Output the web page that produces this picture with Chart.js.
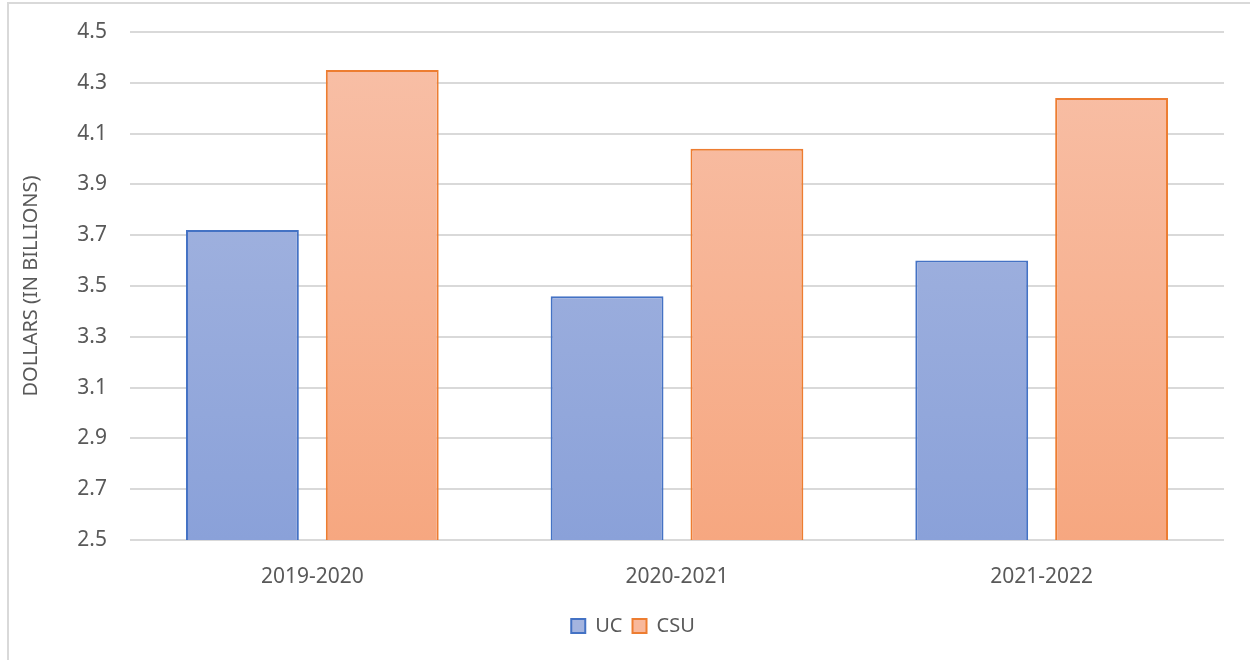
<!DOCTYPE html>
<html><head><meta charset="utf-8">
<script src="https://cdn.jsdelivr.net/npm/chart.js@4.4.1/dist/chart.umd.min.js"></script>
<style>
html,body{margin:0;padding:0;background:#fff;}
#wrap{position:relative;width:1250px;height:660px;}
#frame{position:absolute;left:7px;top:2px;width:1260px;height:680px;border:2px solid #D9D9D9;box-sizing:border-box;}
canvas{position:absolute;left:0;top:0;}
</style></head>
<body><div id="wrap"><div id="frame"></div><canvas id="c" width="1250" height="660"></canvas></div>
<script>
const categories = ["2019-2020", "2020-2021", "2021-2022"];
const ucValues = [3.72, 3.46, 3.60];
const csuValues = [4.35, 4.04, 4.24];
const seriesNames = ["UC", "CSU"];
const yTitle = "DOLLARS (IN BILLIONS)";
const yMin = 2.5, yMax = 4.5, yStep = 0.2;

const FONT = "'Noto Sans', sans-serif";
function grad(ctx, top, bottom) {
  const ch = ctx.chart, a = ch.chartArea;
  if (!a) return top;
  const g = ch.ctx.createLinearGradient(0, a.top, 0, a.bottom);
  g.addColorStop(0, top); g.addColorStop(1, bottom);
  return g;
}
new Chart(document.getElementById('c'), {
  type: 'bar',
  data: {
    labels: categories,
    datasets: [
      { label: seriesNames[0], data: ucValues,
        backgroundColor: c => grad(c, '#AAB9E1', '#8AA1D9'),
        borderColor: '#4472C4', borderWidth: 2, borderSkipped: 'bottom',
        categoryPercentage: 0.767, barPercentage: 0.807 },
      { label: seriesNames[1], data: csuValues,
        backgroundColor: c => grad(c, '#F8C0A8', '#F6A780'),
        borderColor: '#ED7D31', borderWidth: 2, borderSkipped: 'bottom',
        categoryPercentage: 0.767, barPercentage: 0.807 }
    ]
  },
  options: {
    responsive: false, animation: false,
    layout: { padding: { left: 28, right: 12, top: 32, bottom: 14 } },
    plugins: {
      tooltip: { enabled: false },
      legend: {
        position: 'bottom',
        labels: {
          color: '#595959', font: { family: FONT, size: 20 },
          boxWidth: 14, boxHeight: 14, padding: 10,
          generateLabels: ch => ch.data.datasets.map((d, i) => ({
            text: d.label, fillStyle: i === 0 ? '#A4B4DF' : '#F8B89B',
            strokeStyle: d.borderColor, lineWidth: 2, datasetIndex: i, fontColor: '#595959'
          }))
        }
      }
    },
    scales: {
      x: {
        grid: { display: false }, border: { display: false },
        ticks: { color: '#595959', font: { family: FONT, size: 21 }, padding: 16 },
        afterFit: s => { s.height = 66; }
      },
      y: {
        min: yMin, max: yMax,
        grid: { color: '#D9D9D9', lineWidth: 2, drawTicks: false },
        border: { display: false },
        ticks: { stepSize: yStep, color: '#595959', font: { family: FONT, size: 21, lineHeight: 0.3 }, padding: 23,
          callback: v => Number(v).toFixed(1) },
        title: { display: true, text: yTitle, color: '#595959', font: { family: FONT, size: 20 }, padding: { top: -9, bottom: 0 } },
        afterFit: s => { s.width = 102; }
      },
      y2: {
        type: 'linear', position: 'right', display: true,
        grid: { display: false }, border: { display: false },
        ticks: { display: false },
        afterFit: s => { s.width = 14; }
      }
    }
  }
});
</script></body></html>
